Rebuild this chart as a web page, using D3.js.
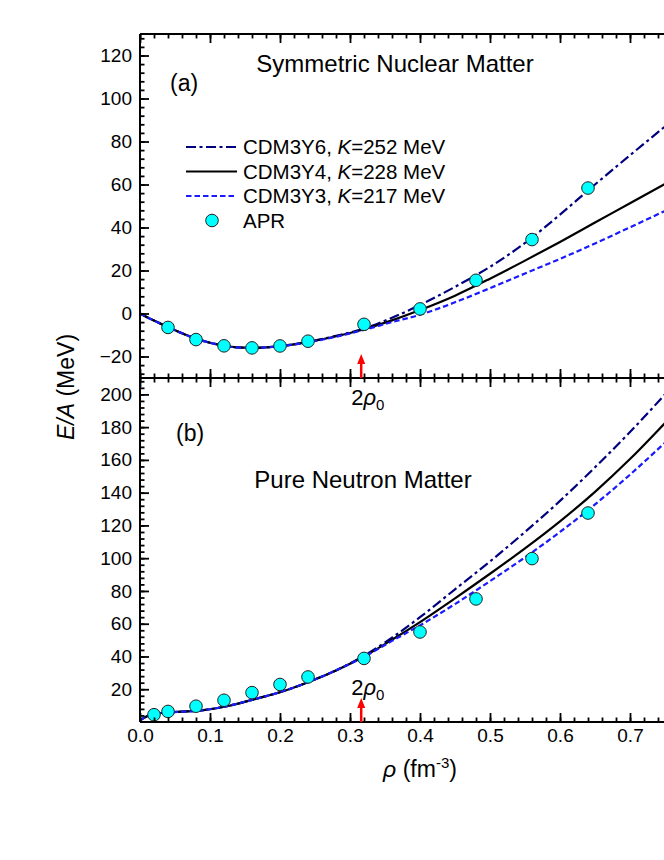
<!DOCTYPE html>
<html>
<head>
<meta charset="utf-8">
<script src="https://cdn.jsdelivr.net/npm/d3@7"></script>
<style>
  body { margin: 0; background: #fff; overflow: hidden; }
  text { font-family: "Liberation Sans", Arial, sans-serif; fill: #000; }
</style>
</head>
<body>
<div id="chart"></div>
<script>
// density grid used for the model curves (fm^-3)
var rho = [0, 0.01, 0.02, 0.04, 0.06, 0.08, 0.10, 0.12, 0.14, 0.16, 0.18, 0.20, 0.24, 0.28,
           0.32, 0.36, 0.40, 0.45, 0.50, 0.55, 0.60, 0.65, 0.70, 0.75, 0.80]

// symmetric nuclear matter, E/A in MeV
var snmY6 = [0, -1.7, -3.3, -6.3, -9.2, -11.7, -13.6, -15.0, -15.8, -16.0, -15.8, -15.2, -13.2, -10.4,
             -7.0, -2.0, 4.0, 12.4, 21.7, 32.8, 46.0, 60.0, 73.6, 87.0, 100.5]
var snmY4 = [0, -1.7, -3.3, -6.3, -9.2, -11.7, -13.6, -15.0, -15.8, -16.0, -15.8, -15.2, -13.3, -10.6,
             -7.3, -3.2, 1.6, 8.3, 16.2, 24.6, 33.3, 42.3, 51.3, 60.3, 69.5]
var snmY3 = [0, -1.7, -3.3, -6.3, -9.2, -11.7, -13.6, -15.0, -15.8, -16.0, -15.8, -15.2, -13.4, -10.8,
             -7.6, -4.0, -0.6, 5.2, 11.8, 18.6, 25.4, 32.6, 40.1, 47.7, 55.3]

// pure neutron matter, E/A in MeV
var pnmY6 = [1.0, 3.5, 4.8, 5.8, 6.3, 6.8, 7.8, 9.3, 11.2, 13.5, 15.8, 18.2, 24.3, 31.5,
             40.5, 51.5, 64.0, 81.0, 98.0, 116.0, 135.0, 155.5, 177.0, 200.0, 223.5]
var pnmY4 = [1.0, 3.5, 4.8, 5.8, 6.3, 6.8, 7.8, 9.3, 11.2, 13.5, 15.8, 18.2, 24.3, 31.5,
             40.0, 50.2, 61.0, 75.5, 90.5, 106.0, 122.5, 140.5, 160.5, 182.5, 205.0]
var pnmY3 = [1.0, 3.5, 4.8, 5.8, 6.3, 6.8, 7.8, 9.3, 11.2, 13.5, 15.8, 18.2, 24.3, 31.5,
             39.8, 49.5, 59.0, 72.0, 86.0, 100.5, 116.0, 132.8, 151.0, 170.5, 190.5]

// APR points
var aprRhoSNM = [0.04, 0.08, 0.12, 0.16, 0.20, 0.24, 0.32, 0.40, 0.48, 0.56, 0.64]
var aprSNM = [-6.48, -12.13, -15.04, -16.00, -15.09, -12.88, -5.03, 2.13, 15.46, 34.39, 58.35]
var aprRhoPNM = [0.02, 0.04, 0.08, 0.12, 0.16, 0.20, 0.24, 0.32, 0.40, 0.48, 0.56, 0.64]
var aprPNM = [4.45, 6.45, 9.65, 13.29, 17.94, 22.92, 27.49, 38.82, 54.95, 75.13, 99.75, 127.58]

var models = ["CDM3Y6", "CDM3Y4", "CDM3Y3"]
var kValues = [252, 228, 217]
var xTicks = [0, 0.1, 0.2, 0.3, 0.4, 0.5, 0.6, 0.7, 0.8]
var ticksA = [-20, 0, 20, 40, 60, 80, 100, 120]
var ticksB = [20, 40, 60, 80, 100, 120, 140, 160, 180, 200]
var twoRho0 = 0.316

// set the dimensions
var width = 664
    height = 860
    left = 140
    right = 700
    aTop = 34
    mid = 378
    bBot = 722

var styles = [
  {color: "#00007f", dash: "10,3.5,3,3.5"},
  {color: "#000000", dash: null},
  {color: "#1a1aff", dash: "5.5,3"}
]

var svg = d3.select("#chart")
    .append("svg")
    .attr("width", width)
    .attr("height", height)

var x = d3.scaleLinear().domain([0, 0.8]).range([left, right])
var ya = d3.scaleLinear().domain([-30, 130]).range([mid, aTop])
var yb = d3.scaleLinear().domain([0, 210]).range([bBot, mid])

svg.append("clipPath").attr("id", "clipA")
  .append("rect").attr("x", left).attr("y", aTop).attr("width", right - left).attr("height", mid - aTop)
svg.append("clipPath").attr("id", "clipB")
  .append("rect").attr("x", left).attr("y", mid).attr("width", right - left).attr("height", bBot - mid)

function panel(y, clip, series, aprX, aprY) {
  var g = svg.append("g")
  var line = d3.line()
    .x(function(d) { return x(d[0]) })
    .y(function(d) { return y(d[1]) })
    .curve(d3.curveMonotoneX)

  series.forEach(function(vals, i) {
    g.append("path")
      .datum(d3.zip(rho, vals))
      .attr("clip-path", "url(#" + clip + ")")
      .attr("d", line)
      .attr("fill", "none")
      .attr("stroke", styles[i].color)
      .attr("stroke-width", 2.2)
      .attr("stroke-dasharray", styles[i].dash)
  })

  g.selectAll("circle.apr")
    .data(d3.zip(aprX, aprY))
    .enter()
    .append("circle")
    .attr("cx", function(d) { return x(d[0]) })
    .attr("cy", function(d) { return y(d[1]) })
    .attr("r", 6.3)
    .attr("fill", "#00ffff")
    .attr("stroke", "#222")
    .attr("stroke-width", 1)
}

panel(ya, "clipA", [snmY6, snmY4, snmY3], aprRhoSNM, aprSNM)
panel(yb, "clipB", [pnmY6, pnmY4, pnmY3], aprRhoPNM, aprPNM)

// axes, ticks pointing inward
function yAxis(y, major, domain) {
  var minor = d3.range(domain[0], domain[1] + 0.001, 4)
  svg.append("g")
    .attr("transform", "translate(" + left + ",0)")
    .call(d3.axisLeft(y).tickValues(minor).tickSize(-4.5).tickFormat("").tickSizeOuter(0))
  svg.append("g")
    .attr("class", "ylab")
    .attr("transform", "translate(" + left + ",0)")
    .call(d3.axisLeft(y).tickValues(major).tickSize(-9).tickPadding(8).tickSizeOuter(0))
}
yAxis(ya, ticksA, [-28, 128])
yAxis(yb, ticksB, [4, 208])

var xMinor = d3.range(0, 0.801, 0.02)
function xAxis(yPos, dir, labels) {
  svg.append("g")
    .attr("transform", "translate(0," + yPos + ")")
    .call((dir > 0 ? d3.axisBottom(x) : d3.axisTop(x)).tickValues(xMinor).tickSize(-4.5).tickFormat("").tickSizeOuter(0))
  var ax = (dir > 0 ? d3.axisBottom(x) : d3.axisTop(x)).tickValues(xTicks).tickSize(-9).tickSizeOuter(0)
  if (labels) ax.tickFormat(d3.format(".1f")).tickPadding(7)
  else ax.tickFormat("")
  svg.append("g")
    .attr("class", "xlab")
    .attr("transform", "translate(0," + yPos + ")")
    .call(ax)
}
xAxis(aTop, -1, false)
xAxis(mid, 1, false)
xAxis(mid, -1, false)
xAxis(bBot, 1, true)

svg.selectAll(".domain").remove()
svg.selectAll(".tick line").attr("stroke", "#000").attr("stroke-width", 1.8)
svg.selectAll(".tick text")
  .style("font-size", "19px")
  .attr("fill", "#000")
  .style("font-family", "'Liberation Sans', Arial, sans-serif")
svg.selectAll(".xlab .tick text").filter(function(d) { return d > 0.75 }).remove()

// frame
var frame = [[left, aTop, left, bBot], [left, aTop, right, aTop], [left, mid, right, mid],
             [left, bBot, right, bBot], [right, aTop, right, bBot]]
svg.selectAll("line.frame")
  .data(frame)
  .enter()
  .append("line")
  .attr("x1", function(d) { return d[0] })
  .attr("y1", function(d) { return d[1] })
  .attr("x2", function(d) { return d[2] })
  .attr("y2", function(d) { return d[3] })
  .attr("stroke", "#000")
  .attr("stroke-width", 2)

// panel titles
svg.append("text").attr("x", 395).attr("y", 72).attr("text-anchor", "middle")
  .style("font-size", "24px").text("Symmetric Nuclear Matter")
svg.append("text").attr("x", 170).attr("y", 91).style("font-size", "23px").text("(a)")
svg.append("text").attr("x", 176).attr("y", 441).style("font-size", "23px").text("(b)")
svg.append("text").attr("x", 363).attr("y", 488).attr("text-anchor", "middle")
  .style("font-size", "24px").text("Pure Neutron Matter")

// legend
var legY = [147, 171.5, 196]
models.forEach(function(m, i) {
  svg.append("line")
    .attr("x1", 186).attr("x2", 237)
    .attr("y1", legY[i]).attr("y2", legY[i])
    .attr("stroke", styles[i].color)
    .attr("stroke-width", 2.2)
    .attr("stroke-dasharray", styles[i].dash)
  var t = svg.append("text").attr("x", 243).attr("y", legY[i] + 7).style("font-size", "20.5px")
  t.append("tspan").text(m + ", ")
  t.append("tspan").style("font-style", "italic").text("K")
  t.append("tspan").text("=" + kValues[i] + " MeV")
})
svg.append("circle").attr("cx", 212).attr("cy", 220.5).attr("r", 6.3)
  .attr("fill", "#00ffff").attr("stroke", "#222").attr("stroke-width", 1)
svg.append("text").attr("x", 243).attr("y", 227.5).style("font-size", "20.5px").text("APR")

// 2 rho0 arrows
function arrow(yBase, ty) {
  var xp = x(twoRho0)
  svg.append("line")
    .attr("x1", xp).attr("x2", xp)
    .attr("y1", yBase).attr("y2", yBase - 16)
    .attr("stroke", "#ff0000").attr("stroke-width", 2.5)
  svg.append("path")
    .attr("d", "M" + (xp - 4) + "," + (yBase - 14) + "L" + xp + "," + (yBase - 24) + "L" + (xp + 4) + "," + (yBase - 14) + "Z")
    .attr("fill", "#ff0000")
  var t = svg.append("text").attr("x", xp - 10).attr("y", ty).style("font-size", "22px")
  t.append("tspan").text("2")
  t.append("tspan").style("font-style", "italic").text("ρ")
  t.append("tspan").attr("dy", 5).style("font-size", "15px").text("0")
}
arrow(mid, 405)
arrow(bBot, 695)

// axis titles
var yl = svg.append("text").attr("transform", "translate(74,387) rotate(-90)")
  .attr("text-anchor", "middle").style("font-size", "23px")
yl.append("tspan").style("font-style", "italic").text("E/A")
yl.append("tspan").text(" (MeV)")

var xl = svg.append("text").attr("x", 420).attr("y", 777)
  .attr("text-anchor", "middle").style("font-size", "23px")
xl.append("tspan").style("font-style", "italic").text("ρ")
xl.append("tspan").text(" (fm")
xl.append("tspan").attr("dy", -9).style("font-size", "15px").text("-3")
xl.append("tspan").attr("dy", 9).text(")")
</script>
</body>
</html>
